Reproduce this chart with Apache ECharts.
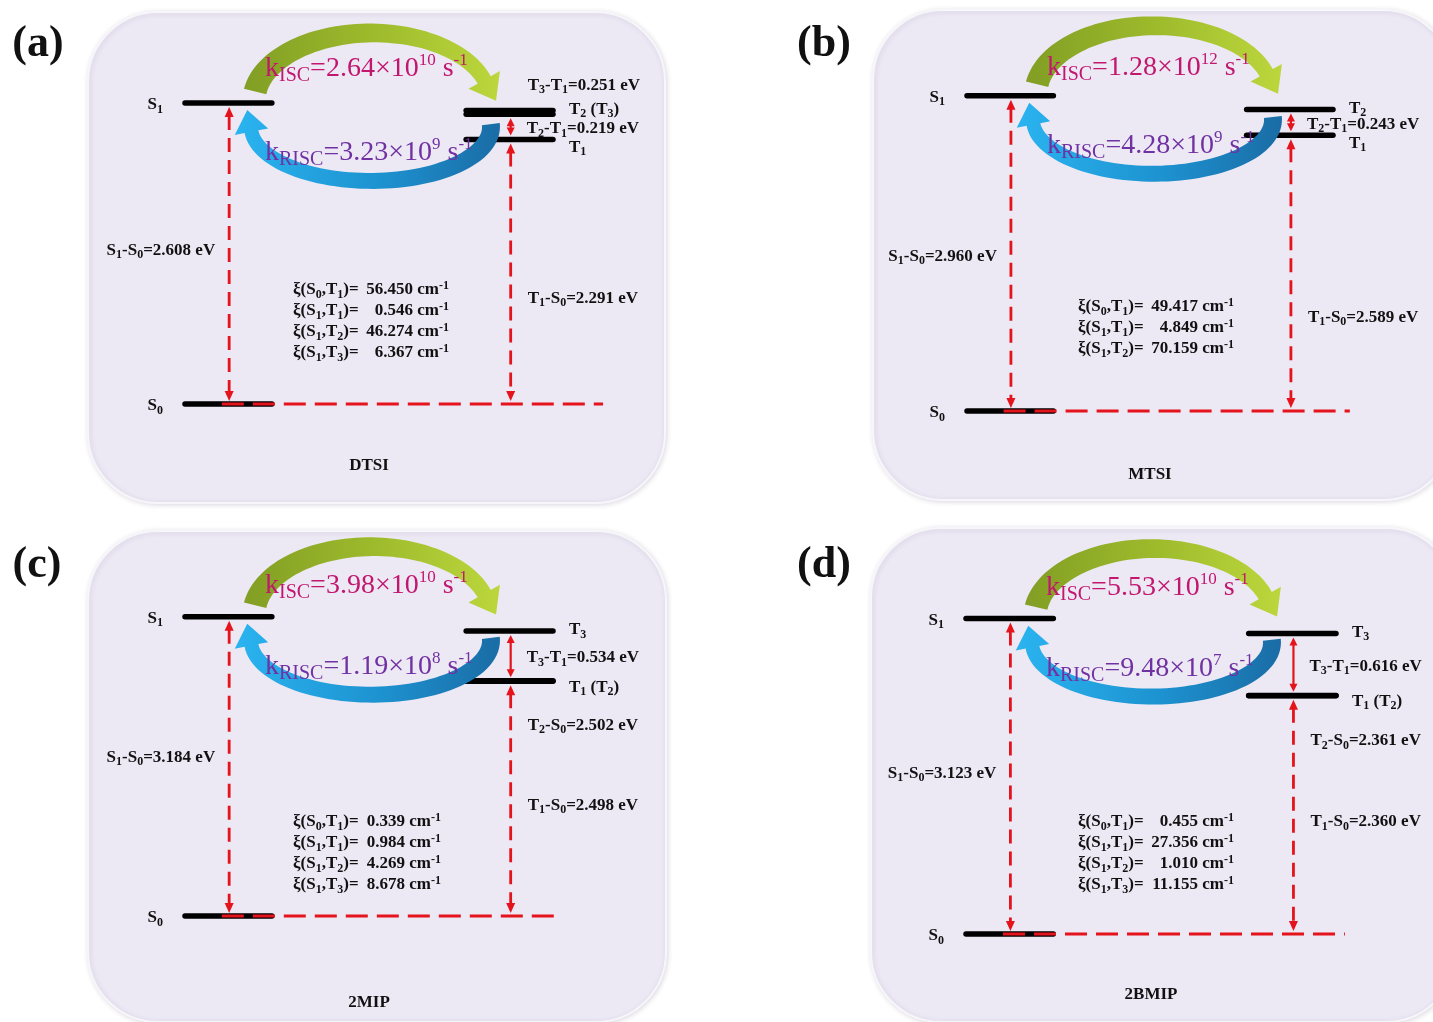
<!DOCTYPE html>
<html>
<head>
<meta charset="utf-8">
<script src="https://cdn.jsdelivr.net/npm/echarts@6/dist/echarts.min.js"></script>
<style>
  html, body { margin: 0; padding: 0; background: #ffffff; }
  #chart { width: 1433px; height: 1022px; }
</style>
</head>
<body>
<div id="chart"></div>
<script>
// Emitters shown in the four panels
const molecules = ['DTSI', 'MTSI', '2MIP', '2BMIP'];
const panelTags = ['(a)', '(b)', '(c)', '(d)'];

// Excited-state energies relative to S0 (eV)
const energyS1 = [2.608, 2.960, 3.184, 3.123];
const energyT1 = [2.291, 2.589, 2.498, 2.360];
const energyT2 = [2.510, 2.832, 2.502, 2.361];
const energyT3 = [2.542, null, 3.032, 2.976];

// Rate constants (s^-1): mantissa and power of ten
const kIscMantissa = ['2.64', '1.28', '3.98', '5.53'];
const kIscExponent = ['10', '12', '10', '10'];
const kRiscMantissa = ['3.23', '4.28', '1.19', '9.48'];
const kRiscExponent = ['9', '9', '8', '7'];

// Spin-orbit coupling matrix elements (cm^-1)
const socS0T1 = ['56.450', '49.417', '0.339', '0.455'];
const socS1T1 = ['0.546', '4.849', '0.984', '27.356'];
const socS1T2 = ['46.274', '70.159', '4.269', '1.010'];
const socS1T3 = ['6.367', null, '8.678', '11.155'];

// Names printed beside the triplet levels
const upperLevelName = ['T_{2} (T_{3})', 'T_{2}', 'T_{3}', 'T_{3}'];
const lowerLevelName = ['T_{1}', 'T_{1}', 'T_{1} (T_{2})', 'T_{1} (T_{2})'];
// Which triplet the short T-T arrow points to, and extra gap labels
const gapUpperLevel = [2, 2, 3, 3];
const extraGapLevel = [3, null, null, null];
const showT2S0 = [false, false, true, true];

// Page layout of every panel (pixels / fractions)
const panelLayout = [
  { frame: [88, 12, 577, 491], tag: [38, 45], left: 185, width: 368, s0: 404, scale: 115.8,
    dashEnd: 113.6, sFrac: 0.51, t1Frac: 0.40, t2Frac: 0.81, socLeft: 108, socRight: 264, socTop: -114, nameDy: 62, kIscDy: -34 },
  { frame: [873, 10, 580, 490], tag: [824, 45], left: 967, width: 366, s0: 411, scale: 106.5,
    dashEnd: 104.6, sFrac: 0.49, t1Frac: 0.34, t2Frac: 0.81, socLeft: 111, socRight: 267, socTop: -104, nameDy: 64, kIscDy: -28 },
  { frame: [88, 531, 578, 491], tag: [37, 566], left: 185, width: 368, s0: 916, scale: 94,
    dashEnd: 102.4, sFrac: 0.53, t1Frac: 0.47, t2Frac: 0.81, socLeft: 108, socRight: 256, socTop: -94, nameDy: 87, kIscDy: -31 },
  { frame: [871, 528, 585, 494], tag: [824, 566], left: 966, width: 370, s0: 934, scale: 101,
    dashEnd: 102.4, sFrac: 0.51, t1Frac: 0.47, t2Frac: 0.81, socLeft: 112, socRight: 268, socTop: -112, nameDy: 61, kIscDy: -31 }
];

const FONT = "'Liberation Serif', 'Times New Roman', serif";
const RED = '#e5131b';
const INK = '#111111';
const SINGLET_COL = [0, 23.6];
const TRIPLET_COL = [76.4, 100];

// "_{x}" -> subscript, "^{x}" -> superscript, rest -> normal rich token
function rich(src) {
  const re = /([_^])\{([^}]*)\}/g;
  let out = '', last = 0, m;
  while ((m = re.exec(src))) {
    if (m.index > last) out += '{n|' + src.slice(last, m.index) + '}';
    out += (m[1] === '_' ? '{b|' : '{p|') + m[2] + '}';
    last = re.lastIndex;
  }
  if (last < src.length) out += '{n|' + src.slice(last) + '}';
  return out;
}

function labelRich(size) {
  const sub = Math.round(size * 0.7);
  return {
    n: { fontFamily: FONT, fontWeight: 'bold', fontSize: size, lineHeight: size + 4, fill: INK },
    b: { fontFamily: FONT, fontWeight: 'bold', fontSize: sub, lineHeight: sub - 1, verticalAlign: 'bottom', fill: INK },
    p: { fontFamily: FONT, fontWeight: 'bold', fontSize: sub, lineHeight: sub - 1, verticalAlign: 'top', fill: INK }
  };
}
function rateRich(color) {
  return {
    n: { fontFamily: FONT, fontSize: 28, lineHeight: 34, fill: color },
    b: { fontFamily: FONT, fontSize: 20, lineHeight: 18, verticalAlign: 'bottom', fill: color },
    p: { fontFamily: FONT, fontSize: 17, lineHeight: 25, verticalAlign: 'top', fill: color }
  };
}
const LABEL = labelRich(17);
const LEVEL = labelRich(17);
const ISC_RICH = rateRich('#c2176f');
const RISC_RICH = rateRich('#7031a2');

function txt(x, y, src, richSet, align) {
  return {
    type: 'text', x: x, y: y,
    style: { text: rich(src), rich: richSet, align: align || 'left', verticalAlign: 'middle',
             fontFamily: FONT, fontSize: 17, fill: INK }
  };
}

// Band-shaped curved arrow following an elliptical arc
function curvedArrow(o) {
  const N = 60;
  const P = t => {
    const r = t * Math.PI / 180;
    return [o.cx + o.rx * Math.cos(r), o.cy + o.dir * o.ry * Math.sin(r)];
  };
  const left = [], right = [];
  let tan = [1, 0], c = [0, 0];
  const dt = (o.t1 - o.t0) * 0.001;
  for (let k = 0; k <= N; k++) {
    const t = o.t0 + (o.t1 - o.t0) * k / N;
    c = P(t);
    const a = P(t - dt), b = P(t + dt);
    let tx = b[0] - a[0], ty = b[1] - a[1];
    const len = Math.hypot(tx, ty);
    tx /= len; ty /= len;
    const w = (o.w0 + (o.w1 - o.w0) * k / N) / 2;
    left.push([c[0] - ty * w, c[1] + tx * w]);
    right.push([c[0] + ty * w, c[1] - tx * w]);
    tan = [tx, ty];
  }
  const hw = o.headW / 2;
  const tip = [c[0] + tan[0] * o.headL, c[1] + tan[1] * o.headL];
  const hl = [c[0] - tan[1] * hw, c[1] + tan[0] * hw];
  const hr = [c[0] + tan[1] * hw, c[1] - tan[0] * hw];
  return left.concat([hl, tip, hr], right.reverse());
}

// Vertical double-headed arrow
function vArrow(x, yTop, yBot, dashed) {
  const hl = dashed ? 10 : 8, hw = dashed ? 4.5 : 4;
  return [
    { type: 'line', shape: { x1: x, y1: yTop + hl - 1, x2: x, y2: yBot - hl + 1 },
      style: { stroke: RED, lineWidth: dashed ? 2.8 : 2.2, lineDash: dashed ? [14, 8] : null } },
    { type: 'polygon', shape: { points: [[x, yTop], [x - hw, yTop + hl], [x + hw, yTop + hl]] }, style: { fill: RED } },
    { type: 'polygon', shape: { points: [[x, yBot], [x - hw, yBot - hl], [x + hw, yBot - hl]] }, style: { fill: RED } }
  ];
}

// Energy level bars
function renderLevel(params, api) {
  const col = api.value(0) === 0 ? SINGLET_COL : TRIPLET_COL;
  const e = api.value(1);
  const p0 = api.coord([col[0], e]);
  const p1 = api.coord([col[1], e]);
  return {
    type: 'line',
    shape: { x1: p0[0], y1: p0[1], x2: p1[0], y2: p1[1] },
    style: { stroke: '#000000', lineWidth: 5.5, lineCap: 'round' }
  };
}

// Arrows, gaps and annotations of one panel
function makePanelRenderer(i) {
  const L = panelLayout[i];
  return function (params, api) {
    const yOf = e => api.coord([0, e])[1];
    const xOf = u => api.coord([u, 0])[0];
    const yS0 = yOf(0), yS1 = yOf(energyS1[i]), yT1 = yOf(energyT1[i]);
    const yUp = yOf(gapUpperLevel[i] === 3 ? energyT3[i] : energyT2[i]);
    const topE = Math.max(energyT2[i], energyT3[i] == null ? -1 : energyT3[i]);
    const yTop = yOf(topE);
    const xL = xOf(0), xR = xOf(100), xS = xOf(12), xT = xOf(88.5);
    const ch = [];

    // green ISC arrow (S1 -> T) and blue RISC arrow (T -> S1)
    ch.push({
      type: 'polygon',
      shape: { points: curvedArrow({ cx: xL + 187, cy: yS1 - 2, rx: 118, ry: 68, dir: -1,
                                     t0: 172, t1: 18, w0: 23, w1: 15, headW: 36, headL: 24 }) },
      style: { fill: new echarts.graphic.LinearGradient(0, 0, 1, 0, [
        { offset: 0, color: '#829e24' }, { offset: 0.5, color: '#9dba2c' }, { offset: 1, color: '#bcd73c' }]) }
    });
    ch.push({
      type: 'polygon',
      shape: { points: curvedArrow({ cx: xL + 186, cy: yS1 + 24, rx: 120, ry: 54, dir: 1,
                                     t0: -3, t1: 175, w0: 18, w1: 14, headW: 34, headL: 22 }) },
      style: { fill: new echarts.graphic.LinearGradient(0, 0, 1, 0, [
        { offset: 0, color: '#2ab4f0' }, { offset: 0.55, color: '#1d92d0' }, { offset: 1, color: '#1a6ca5' }]) }
    });

    // S0 reference line
    ch.push({ type: 'line', shape: { x1: xOf(10), y1: yS0, x2: xOf(L.dashEnd), y2: yS0 },
              style: { stroke: RED, lineWidth: 3, lineDash: [22, 9] } });
    // gap arrows
    vArrow(xS, yS1 + 4, yS0 - 3, true).forEach(e => ch.push(e));
    vArrow(xT, yT1 + 4, yS0 - 3, true).forEach(e => ch.push(e));
    vArrow(xT, yUp + 4, yT1 - 4, false).forEach(e => ch.push(e));

    // level names
    ch.push(txt(xL - 22, yS1 + 2, 'S_{1}', LEVEL, 'right'));
    ch.push(txt(xL - 22, yS0 + 2, 'S_{0}', LEVEL, 'right'));
    ch.push(txt(xR + 16, yTop - 1, upperLevelName[i], LEVEL, 'left'));
    ch.push(txt(xR + 16, yT1 + (i < 2 ? 8 : 6), lowerLevelName[i], LEVEL, 'left'));

    // energy gap labels
    ch.push(txt(xS - 14, yS0 - L.sFrac * (yS0 - yS1),
                'S_{1}-S_{0}=' + energyS1[i].toFixed(3) + ' eV', LABEL, 'right'));
    ch.push(txt(xT + 17, yS0 - L.t1Frac * (yS0 - yT1),
                'T_{1}-S_{0}=' + energyT1[i].toFixed(3) + ' eV', LABEL, 'left'));
    if (showT2S0[i]) {
      ch.push(txt(xT + 17, yS0 - L.t2Frac * (yS0 - yT1),
                  'T_{2}-S_{0}=' + energyT2[i].toFixed(3) + ' eV', LABEL, 'left'));
    }
    const upE = gapUpperLevel[i] === 3 ? energyT3[i] : energyT2[i];
    ch.push(txt(xT + 16, (yUp + yT1) / 2 + 2,
                'T_{' + gapUpperLevel[i] + '}-T_{1}=' + (upE - energyT1[i]).toFixed(3) + ' eV', LABEL, 'left'));
    if (extraGapLevel[i] != null) {
      const exE = extraGapLevel[i] === 3 ? energyT3[i] : energyT2[i];
      ch.push(txt(xT + 17, yOf(exE) - 25,
                  'T_{' + extraGapLevel[i] + '}-T_{1}=' + (exE - energyT1[i]).toFixed(3) + ' eV', LABEL, 'left'));
    }

    // spin-orbit coupling block
    const socRows = [['ξ(S_{0},T_{1})=', socS0T1[i]], ['ξ(S_{1},T_{1})=', socS1T1[i]],
                     ['ξ(S_{1},T_{2})=', socS1T2[i]], ['ξ(S_{1},T_{3})=', socS1T3[i]]]
                    .filter(r => r[1] != null);
    socRows.forEach((r, k) => {
      const y = yS0 + L.socTop + k * 21;
      ch.push(txt(xL + L.socLeft, y, r[0], LABEL, 'left'));
      ch.push(txt(xL + L.socRight, y, r[1] + ' cm^{-1}', LABEL, 'right'));
    });

    // rate constants
    ch.push(txt(xL + 80, yS1 + L.kIscDy,
                'k_{ISC}=' + kIscMantissa[i] + '×10^{' + kIscExponent[i] + '} s^{-1}', ISC_RICH, 'left'));
    ch.push(txt(xL + 80, yS1 + 50,
                'k_{RISC}=' + kRiscMantissa[i] + '×10^{' + kRiscExponent[i] + '} s^{-1}', RISC_RICH, 'left'));

    // molecule name
    ch.push(txt(xOf(50), yS0 + L.nameDy, molecules[i], LABEL, 'center'));

    return { type: 'group', children: ch };
  };
}

const grids = [], xAxes = [], yAxes = [], series = [], graphics = [];
panelLayout.forEach((L, i) => {
  const height = 3.5 * L.scale;
  grids.push({ left: L.left, width: L.width, top: L.s0 - height, height: height });
  xAxes.push({ type: 'value', gridIndex: i, min: 0, max: 100, show: false });
  yAxes.push({ type: 'value', gridIndex: i, min: 0, max: 3.5, show: false });

  const levels = [[0, 0], [0, energyS1[i]], [1, energyT1[i]], [1, energyT2[i]]];
  if (energyT3[i] != null) levels.push([1, energyT3[i]]);
  series.push({ type: 'custom', coordinateSystem: 'cartesian2d', xAxisIndex: i, yAxisIndex: i,
                clip: false, z: 3, silent: true, data: levels, renderItem: renderLevel });
  series.push({ type: 'custom', coordinateSystem: 'cartesian2d', xAxisIndex: i, yAxisIndex: i,
                clip: false, z: 4, silent: true, data: [[50, 0]], renderItem: makePanelRenderer(i) });

  const f = L.frame;
  graphics.push({
    type: 'rect', z: 0, silent: true,
    shape: { x: f[0], y: f[1], width: f[2], height: f[3], r: 70 },
    style: { fill: '#ece8f4', stroke: '#f7f6fa', lineWidth: 2,
             shadowBlur: 5, shadowColor: 'rgba(90, 80, 110, 0.18)', shadowOffsetX: 1, shadowOffsetY: 1 }
  });
  graphics.push({
    type: 'text', z: 1, silent: true, x: L.tag[0], y: L.tag[1],
    style: { text: panelTags[i], font: 'bold 44px ' + FONT, fill: INK, align: 'center', verticalAlign: 'middle' }
  });
});

const chart = echarts.init(document.getElementById('chart'), null, { renderer: 'canvas' });
chart.setOption({
  animation: false,
  backgroundColor: '#ffffff',
  grid: grids,
  xAxis: xAxes,
  yAxis: yAxes,
  graphic: graphics,
  series: series
});
</script>
</body>
</html>
